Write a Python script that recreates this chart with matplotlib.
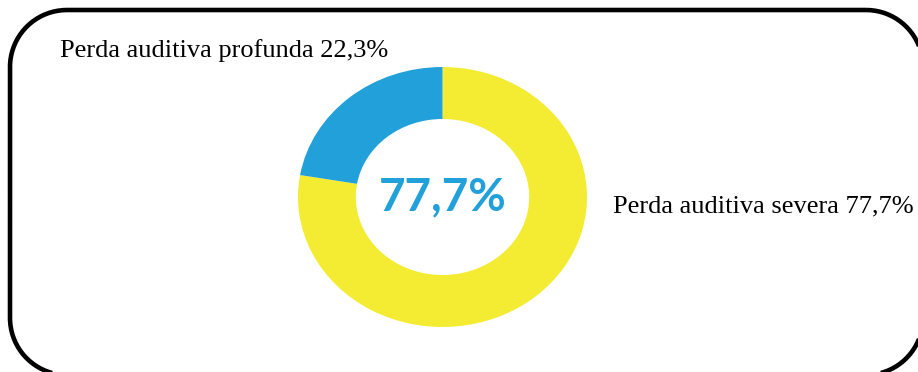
import numpy as np
import matplotlib.pyplot as plt
from matplotlib.patches import PathPatch
from matplotlib.path import Path

# Data
labels = ['Perda auditiva severa', 'Perda auditiva profunda']
values = [77.7, 22.3]
colors = ['#F4EC33', '#21A0D9']
center_label = '77,7%'

W, H = 918, 372
fig = plt.figure(figsize=(W / 100, H / 100), dpi=100)

# background axes in pixel coordinates (y measured from the top)
bg = fig.add_axes([0, 0, 1, 1])
bg.set_xlim(0, W)
bg.set_ylim(H, 0)
bg.axis('off')


def rounded_rect(x0, y0, x1, y1, r, n=40):
    # corner centres and start angles, going round the box
    pts = []
    for cx, cy, a0 in [(x1 - r, y0 + r, -90), (x1 - r, y1 - r, 0),
                       (x0 + r, y1 - r, 90), (x0 + r, y0 + r, 180)]:
        t = np.radians(np.linspace(a0, a0 + 90, n))
        pts += list(zip(cx + r * np.cos(t), cy + r * np.sin(t)))
    pts.append(pts[0])
    return Path(pts)


# rounded frame, running slightly off the right and bottom edges
frame = PathPatch(rounded_rect(10, 10, 923, 375, 57), fill=False,
                  edgecolor='black', linewidth=3.3)
bg.add_patch(frame)

bg.text(60, 57, f'{labels[1]} {values[1]:.1f}%'.replace('.', ','),
        fontfamily='Liberation Serif', fontsize=19, va='baseline', ha='left')
bg.text(613, 212, f'{labels[0]} {values[0]:.1f}%'.replace('.', ','),
        fontfamily='Liberation Serif', fontsize=19, va='baseline', ha='left')

# donut (slightly wider than tall, like the original)
ax = fig.add_axes([298 / W, (H - 327) / H, 289 / W, 260 / H])
ax.pie(values, colors=colors, startangle=90, counterclock=False,
       wedgeprops=dict(width=0.4, linewidth=0))
ax.set_aspect('auto')
ax.set_xlim(-1, 1)
ax.set_ylim(-1, 1)
ax.text(0, 0, center_label, ha='center', va='center', color='#21A0D9',
        fontsize=33, fontweight='bold', fontfamily='Lato')

fig.savefig('out.png', dpi=100)
